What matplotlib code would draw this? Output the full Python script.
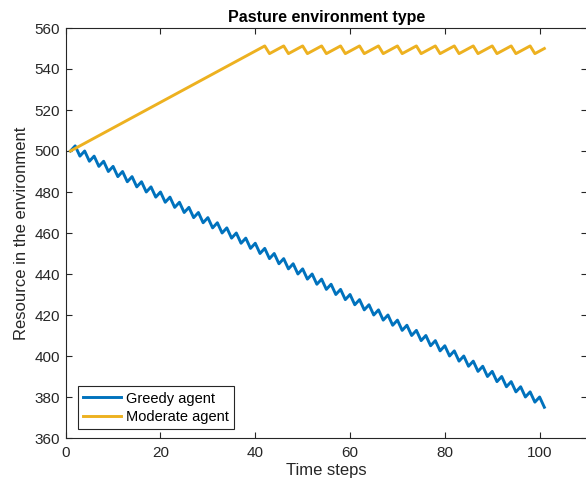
import matplotlib
matplotlib.use("Agg")
import matplotlib.pyplot as plt

plt.rcParams['font.family'] = ['Liberation Sans', 'DejaVu Sans']

time_steps = list(range(1, 102))

greedy = [
    500, 502.5, 497.5, 500, 495, 497.5, 492.5, 495, 490, 492.5,
    487.5, 490, 485, 487.5, 482.5, 485, 480, 482.5, 477.5, 480,
    475, 477.5, 472.5, 475, 470, 472.5, 467.5, 470, 465, 467.5,
    462.5, 465, 460, 462.5, 457.5, 460, 455, 457.5, 452.5, 455,
    450, 452.5, 447.5, 450, 445, 447.5, 442.5, 445, 440, 442.5,
    437.5, 440, 435, 437.5, 432.5, 435, 430, 432.5, 427.5, 430,
    425, 427.5, 422.5, 425, 420, 422.5, 417.5, 420, 415, 417.5,
    412.5, 415, 410, 412.5, 407.5, 410, 405, 407.5, 402.5, 405,
    400, 402.5, 397.5, 400, 395, 397.5, 392.5, 395, 390, 392.5,
    387.5, 390, 385, 387.5, 382.5, 385, 380, 382.5, 377.5, 380,
    375,
]

moderate = [
    500, 501.25, 502.5, 503.75, 505, 506.25, 507.5, 508.75, 510, 511.25,
    512.5, 513.75, 515, 516.25, 517.5, 518.75, 520, 521.25, 522.5, 523.75,
    525, 526.25, 527.5, 528.75, 530, 531.25, 532.5, 533.75, 535, 536.25,
    537.5, 538.75, 540, 541.25, 542.5, 543.75, 545, 546.25, 547.5, 548.75,
    550, 551.25, 547.5, 548.75, 550, 551.25, 547.5, 548.75, 550, 551.25,
    547.5, 548.75, 550, 551.25, 547.5, 548.75, 550, 551.25, 547.5, 548.75,
    550, 551.25, 547.5, 548.75, 550, 551.25, 547.5, 548.75, 550, 551.25,
    547.5, 548.75, 550, 551.25, 547.5, 548.75, 550, 551.25, 547.5, 548.75,
    550, 551.25, 547.5, 548.75, 550, 551.25, 547.5, 548.75, 550, 551.25,
    547.5, 548.75, 550, 551.25, 547.5, 548.75, 550, 551.25, 547.5, 548.75,
    550,
]

x_ticks = [0, 20, 40, 60, 80, 100]
y_ticks = [360, 380, 400, 420, 440, 460, 480, 500, 520, 540, 560]

W, H = 586, 492
fig = plt.figure(figsize=(W / 100, H / 100), dpi=100)
left, right, bottom, top = 65.7, 587.0, 438.0, 28.0
ax = fig.add_axes([left / W, 1 - bottom / H, (right - left) / W, (bottom - top) / H])

ax.plot(time_steps, greedy, color='#0072BD', lw=2.1, label='Greedy agent')
ax.plot(time_steps, moderate, color='#EDB120', lw=2.1, label='Moderate agent')

ax.set_xlim(0, 110)
ax.set_ylim(360, 560)
ax.set_xticks(x_ticks)
ax.set_yticks(y_ticks)

axcol = '#262626'
for s in ax.spines.values():
    s.set_color(axcol)
    s.set_linewidth(0.8)
ax.tick_params(direction='in', length=4.5, width=0.8, colors=axcol,
               labelsize=11, top=True, right=True, pad=4)
ax.tick_params(axis='x', pad=6)

ax.set_title('Pasture environment type', fontsize=11.5, fontweight='bold',
             color='black', pad=4)
ax.set_xlabel('Time steps', fontsize=12, color=axcol, labelpad=2)
ax.set_ylabel('Resource in the environment', fontsize=12, color=axcol, labelpad=4)

leg = ax.legend(loc='lower left', bbox_to_anchor=(0.024, 0.022), fontsize=10.5,
                frameon=True, fancybox=False, framealpha=1, edgecolor=axcol,
                handlelength=2.6, handletextpad=0.35, borderpad=0.35,
                labelspacing=0.3, borderaxespad=0)
leg.get_frame().set_linewidth(0.8)

fig.savefig('out.png', dpi=100)
